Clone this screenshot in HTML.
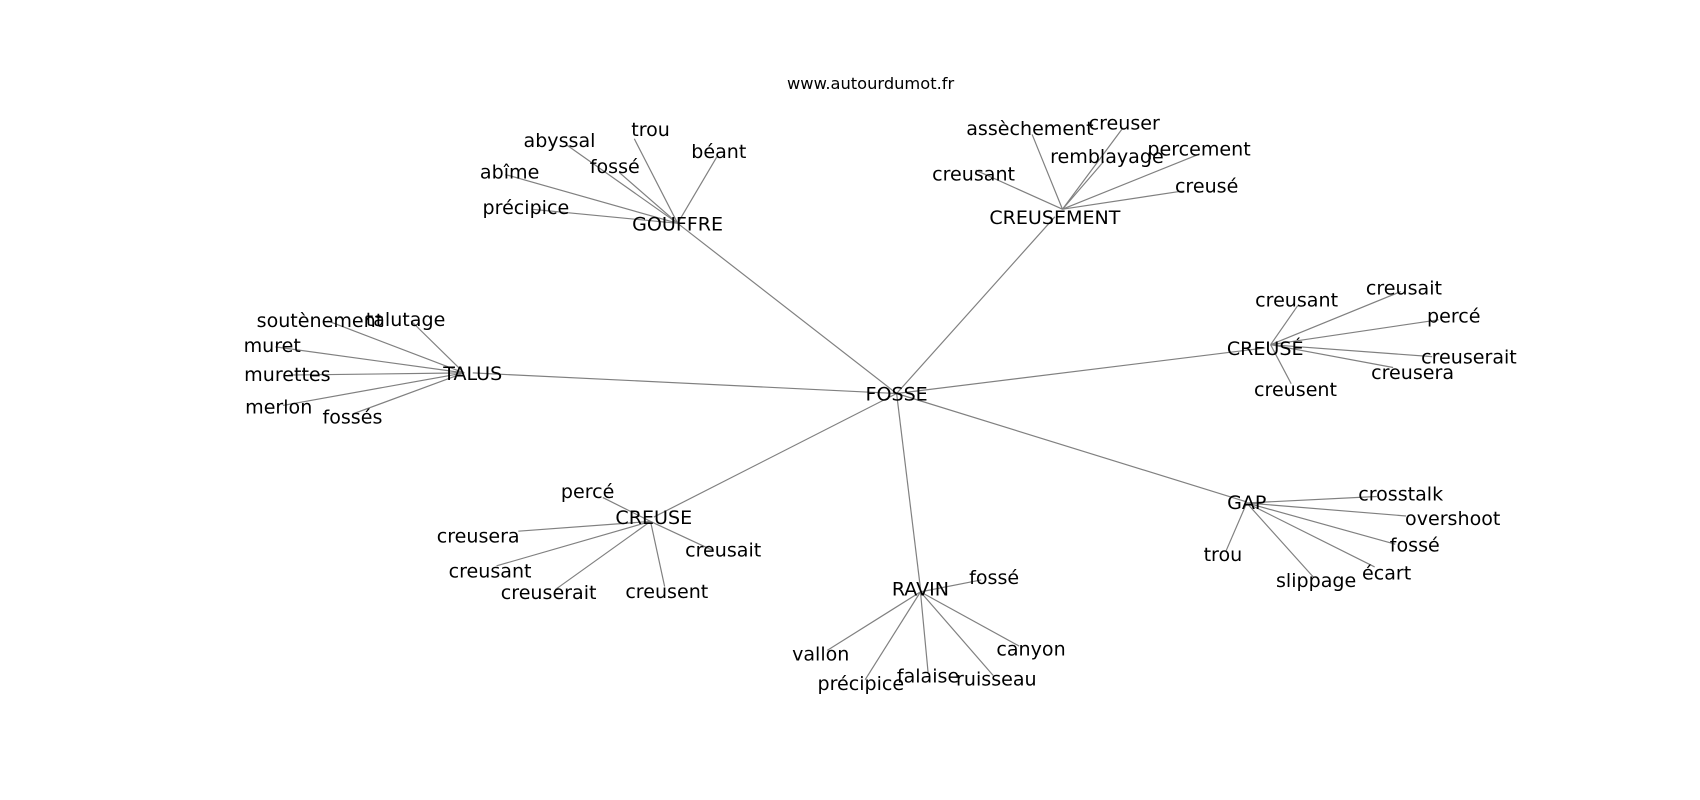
<!DOCTYPE html>
<html><head><meta charset="utf-8"><style>
html,body{margin:0;padding:0;background:#fff;width:1700px;height:800px;overflow:hidden}
svg{display:block}
text{font-family:"DejaVu Sans","Liberation Sans",sans-serif;font-size:17.6px;fill:#000;text-anchor:middle;dominant-baseline:central}
line{stroke:#808080;stroke-width:1.1}
</style></head><body>
<svg width="1700" height="800" viewBox="0 0 1568 738" xmlns="http://www.w3.org/2000/svg">
<g>
<line x1="827" y1="363" x2="625" y2="206"/>
<line x1="827" y1="363" x2="973" y2="200"/>
<line x1="827" y1="363" x2="1167" y2="321"/>
<line x1="827" y1="363" x2="436" y2="344"/>
<line x1="827" y1="363" x2="603" y2="477"/>
<line x1="827" y1="363" x2="849" y2="543"/>
<line x1="827" y1="363" x2="1150" y2="463"/>

<line x1="625" y1="206" x2="523" y2="134"/>
<line x1="625" y1="206" x2="585" y2="128"/>
<line x1="625" y1="206" x2="661" y2="145"/>
<line x1="625" y1="206" x2="571" y2="159"/>
<line x1="625" y1="206" x2="466" y2="161"/>
<line x1="625" y1="206" x2="490" y2="193"/>

<line x1="980" y1="193" x2="952" y2="124"/>
<line x1="980" y1="193" x2="1035" y2="119"/>
<line x1="980" y1="193" x2="1018" y2="149"/>
<line x1="980" y1="193" x2="1104" y2="143"/>
<line x1="980" y1="193" x2="900" y2="157"/>
<line x1="980" y1="193" x2="1092" y2="176"/>

<line x1="1172" y1="318" x2="1197" y2="282"/>
<line x1="1172" y1="318" x2="1292" y2="269"/>
<line x1="1172" y1="318" x2="1327" y2="295"/>
<line x1="1172" y1="318" x2="1321" y2="329"/>
<line x1="1172" y1="318" x2="1285" y2="339"/>
<line x1="1172" y1="318" x2="1191" y2="354"/>

<line x1="428" y1="344" x2="302" y2="296"/>
<line x1="428" y1="344" x2="379" y2="296"/>
<line x1="428" y1="344" x2="254" y2="320"/>
<line x1="428" y1="344" x2="266" y2="346"/>
<line x1="428" y1="344" x2="261" y2="374"/>
<line x1="428" y1="344" x2="325" y2="382"/>

<line x1="600" y1="481" x2="556" y2="459"/>
<line x1="600" y1="481" x2="478" y2="490"/>
<line x1="600" y1="481" x2="658" y2="508"/>
<line x1="600" y1="481" x2="458" y2="522"/>
<line x1="600" y1="481" x2="512" y2="544"/>
<line x1="600" y1="481" x2="613" y2="541"/>

<line x1="849" y1="546" x2="905" y2="535"/>
<line x1="849" y1="546" x2="763" y2="600"/>
<line x1="849" y1="546" x2="940" y2="596"/>
<line x1="849" y1="546" x2="798" y2="627"/>
<line x1="849" y1="546" x2="856" y2="620"/>
<line x1="849" y1="546" x2="916" y2="623"/>

<line x1="1150" y1="464" x2="1270" y2="458"/>
<line x1="1150" y1="464" x2="1297" y2="476"/>
<line x1="1150" y1="464" x2="1287" y2="502"/>
<line x1="1150" y1="464" x2="1131" y2="508"/>
<line x1="1150" y1="464" x2="1212" y2="533"/>
<line x1="1150" y1="464" x2="1268" y2="523"/>
</g>
<text x="803" y="77" style="font-size:15px">www.autourdumot.fr</text>
<g transform="translate(0,1)">
<text x="827" y="363">FOSSE</text>
<text x="625" y="206">GOUFFRE</text>
<text x="973" y="200">CREUSEMENT</text>
<text x="1167" y="321">CREUSÉ</text>
<text x="436" y="344">TALUS</text>
<text x="603" y="477">CREUSE</text>
<text x="849" y="543">RAVIN</text>
<text x="1150" y="463">GAP</text>

<text x="516" y="129">abyssal</text>
<text x="600" y="119">trou</text>
<text x="663" y="139">béant</text>
<text x="567" y="153">fossé</text>
<text x="470" y="158">abîme</text>
<text x="485" y="191">précipice</text>

<text x="950" y="118">assèchement</text>
<text x="1037" y="113">creuser</text>
<text x="1021" y="144">remblayage</text>
<text x="1106" y="137">percement</text>
<text x="898" y="160">creusant</text>
<text x="1113" y="171">creusé</text>

<text x="1196" y="276">creusant</text>
<text x="1295" y="265">creusait</text>
<text x="1341" y="291">percé</text>
<text x="1355" y="329">creuserait</text>
<text x="1303" y="343">creusera</text>
<text x="1195" y="359">creusent</text>

<text x="295" y="295">soutènement</text>
<text x="374" y="294">talutage</text>
<text x="251" y="318">muret</text>
<text x="265" y="345">murettes</text>
<text x="257" y="375">merlon</text>
<text x="325" y="384">fossés</text>

<text x="542" y="453">percé</text>
<text x="441" y="494">creusera</text>
<text x="667" y="507">creusait</text>
<text x="452" y="526">creusant</text>
<text x="506" y="546">creuserait</text>
<text x="615" y="545">creusent</text>

<text x="917" y="532">fossé</text>
<text x="757" y="603">vallon</text>
<text x="951" y="598">canyon</text>
<text x="794" y="630">précipice</text>
<text x="856" y="623">falaise</text>
<text x="919" y="626">ruisseau</text>

<text x="1292" y="455">crosstalk</text>
<text x="1340" y="478">overshoot</text>
<text x="1305" y="502">fossé</text>
<text x="1128" y="511">trou</text>
<text x="1214" y="535">slippage</text>
<text x="1279" y="528">écart</text>
</g>
</svg>
</body></html>
